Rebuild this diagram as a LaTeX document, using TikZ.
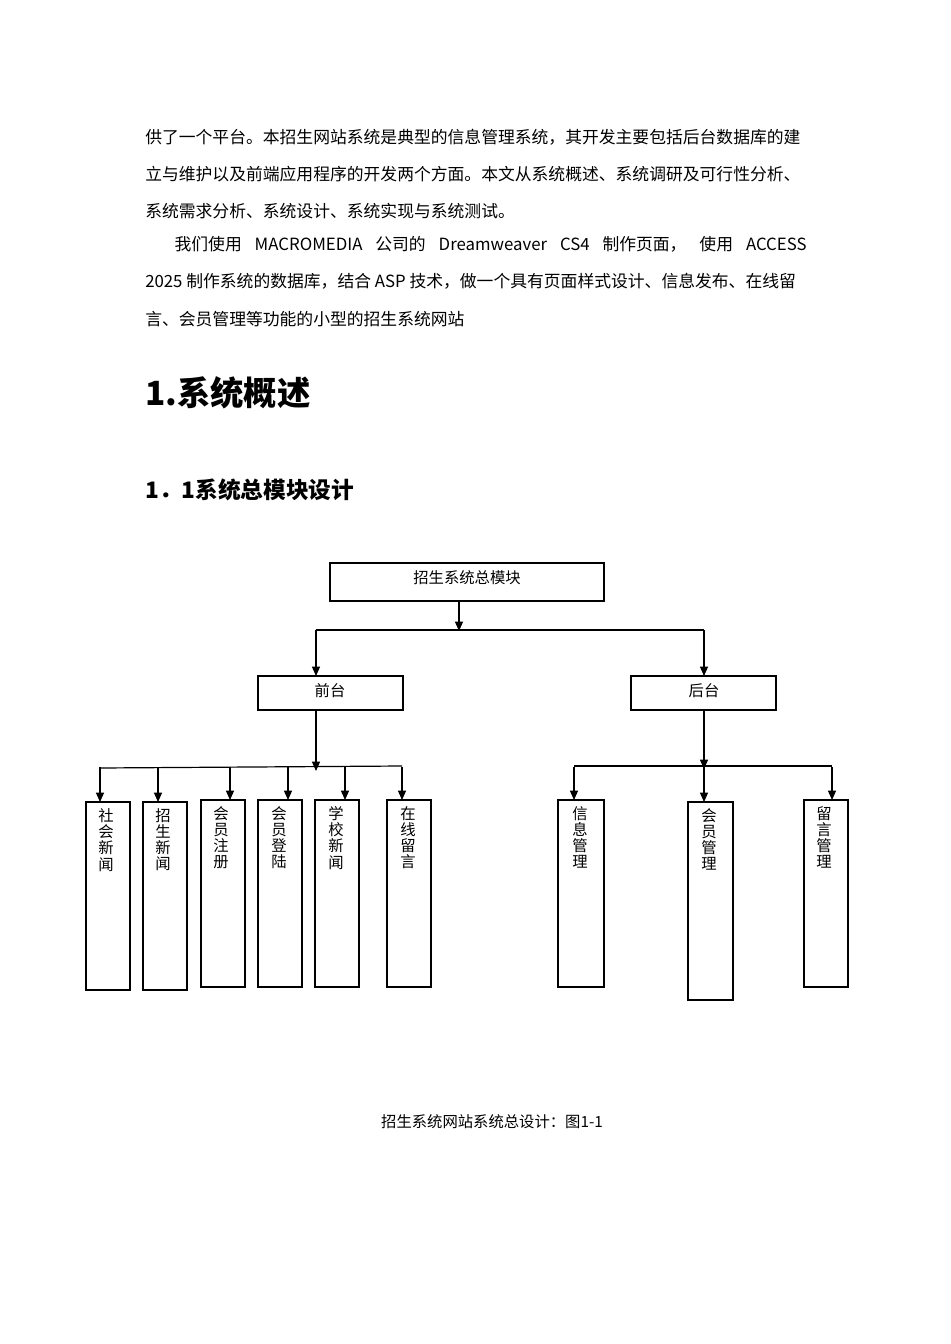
\documentclass[tikz,border=0pt]{standalone}
\usepackage{fontspec}
\setmainfont{Noto Sans CJK SC}
\usetikzlibrary{arrows.meta}
\begin{document}
\begin{tikzpicture}[x=0.75pt,y=-0.75pt,
  body/.style={anchor=west,inner sep=0pt,font=\fontsize{12.6pt}{14pt}\selectfont},
  bx/.style={draw,line width=0.9pt,inner sep=0pt},
  lbl/.style={font=\fontsize{11.5pt}{12pt}\selectfont,inner sep=0pt},
  vt/.style={font=\fontsize{11.5pt}{12.2pt}\selectfont,inner sep=0pt,align=center,anchor=north},
  ar/.style={line width=0.9pt,-{Triangle[length=7pt,width=6pt]}},
  ln/.style={line width=0.9pt}]
\useasboundingbox (0,0) rectangle (950,1344);
\node[body] (l1) at (145,137) {\makebox[496pt][l]{供了一个平台。本招生网站系统是典型的信息管理系统，其开发主要包括后台数据库的建}};
\node[body] (l2) at (145,174) {立与维护以及前端应用程序的开发两个方面。本文从系统概述、系统调研及可行性分析、};
\node[body] (l3) at (145,211) {系统需求分析、系统设计、系统实现与系统测试。};
\node[body] (l4) at (145,244) {\makebox[496pt][s]{\hspace*{22pt}我们使用 MACROMEDIA 公司的 Dreamweaver CS4 制作页面， 使用 ACCESS}};
\node[body] (l5) at (145,281) {2025 制作系统的数据库，结合 ASP 技术，做一个具有页面样式设计、信息发布、在线留};
\node[body] (l6) at (145,319) {言、会员管理等功能的小型的招生系统网站};
\node[body,font=\fontsize{25pt}{28pt}\selectfont\bfseries] (h1) at (145,393) {1.系统概述};
\node[body,font=\fontsize{17pt}{19pt}\selectfont\bfseries] (h2) at (145,490) {1．1系统总模块设计};

\draw[bx] (330,563) rectangle (604,601);
\node[lbl] (top) at (467,578) {招生系统总模块};
\coordinate (tb) at (459,601);
\coordinate (tj) at (459,631);
\draw[ar] (tb) -- (tj);
\draw[ln] (316,630) -- (704,630);
\draw[bx] (258,676) rectangle (403,710);
\node[lbl] (qt) at (330,691) {前台};
\draw[bx] (631,676) rectangle (776,710);
\node[lbl] (ht) at (704,691) {后台};
\draw[ar] (316,630) -- (316,676);
\draw[ar] (704,630) -- (704,676);

\draw[ar] (316,710) -- (316,771);
\draw[ln] (100,768) -- (402,766);
\draw[ar] (704,710) -- (704,769);
\draw[ln] (574,766) -- (832,766);

\foreach \a/\b/\t/\bt/\ax in {86/130/802/990/100,143/187/802/990/158,201/245/800/987/230,258/302/800/987/288,315/359/800/987/345,387/431/800/987/402,558/604/800/987/574,688/733/802/1000/704,804/848/800/987/832}{
  \draw[bx] (\a,\t) rectangle (\b,\bt);
  \draw[ar] (\ax,767) -- (\ax,\t);
}
\node[vt] (c1) at (106,808) {社\\会\\新\\闻};
\node[vt] (c2) at (163,808) {招\\生\\新\\闻};
\node[vt] (c3) at (221,806) {会\\员\\注\\册};
\node[vt] (c4) at (279,806) {会\\员\\登\\陆};
\node[vt] (c5) at (336,806) {学\\校\\新\\闻};
\node[vt] (c6) at (408,806) {在\\线\\留\\言};
\node[vt] (c7) at (580,806) {信\\息\\管\\理};
\node[vt] (c8) at (709,808) {会\\员\\管\\理};
\node[vt] (c9) at (824,806) {留\\言\\管\\理};
\node[lbl] (cap) at (492,1122) {招生系统网站系统总设计：图1-1};
\end{tikzpicture}
\end{document}
